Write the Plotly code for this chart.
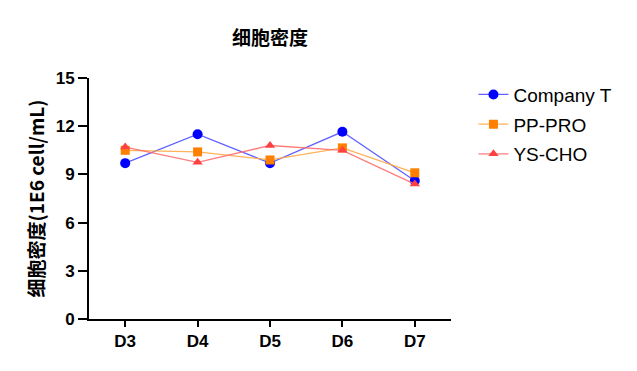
import plotly.graph_objects as go

days = ["D3", "D4", "D5", "D6", "D7"]
company_t = [9.7, 11.5, 9.7, 11.65, 8.6]
pp_pro = [10.5, 10.4, 9.9, 10.65, 9.1]
ys_cho = [10.7, 9.75, 10.8, 10.5, 8.4]
y_ticks = [0, 3, 6, 9, 12, 15]

FONT = "Arial, 'Liberation Sans', 'Noto Sans CJK SC', sans-serif"
CJK = "'Noto Sans CJK SC', Arial, sans-serif"

fig = go.Figure()
series = [
    ("Company T", company_t, "#0000FF", "rgba(80,80,255,0.9)", "circle", 10),
    ("PP-PRO", pp_pro, "#FF8000", "rgba(255,170,70,0.9)", "square", 9),
    ("YS-CHO", ys_cho, "#FF4040", "rgba(255,110,110,0.9)", "triangle-up", 9),
]
for name, vals, mc, lc, sym, sz in series:
    fig.add_trace(go.Scatter(
        x=days, y=vals, name=name, mode="lines+markers", legendgroup=name,
        line=dict(color=lc, width=1.3),
        marker=dict(color=mc, symbol=sym, size=sz),
    ))

fig.update_layout(
    width=637, height=371,
    paper_bgcolor="white", plot_bgcolor="white",
    margin=dict(l=89, r=186, t=78, b=52),
    font=dict(family=FONT, color="black"),
    title=dict(text="<b>细胞密度</b>", x=(89 + 451) / 2 / 637, xanchor="center",
               y=1 - 38 / 371, yanchor="middle",
               font=dict(size=19, family=CJK)),
    showlegend=True,
    legend=dict(x=1.062, y=1.01, xanchor="left", yanchor="top",
                font=dict(size=19, family=FONT), bgcolor="rgba(0,0,0,0)",
                tracegroupgap=2, itemwidth=30),
)
fig.update_xaxes(
    range=[-0.5, 4.5], showline=True, linecolor="black", linewidth=2,
    ticks="outside", ticklen=6, tickwidth=2, tickcolor="black",
    showgrid=False, zeroline=False, automargin=False,
    tickfont=dict(size=17, family=FONT, weight="bold"),
)
fig.update_yaxes(
    range=[0, 15], tickvals=y_ticks, showline=True, linecolor="black", linewidth=2,
    ticks="outside", ticklen=9, tickwidth=2, tickcolor="black",
    showgrid=False, zeroline=False, automargin=False,
    tickfont=dict(size=17, family=FONT, weight="bold"),
    title=dict(text="<b>细胞密度(1E6 cell/mL)</b>", standoff=6,
               font=dict(size=19, family=CJK)),
)

fig.write_html("out.html", config={"displayModeBar": False},
               post_script="document.body.style.margin='0';document.body.style.padding='0';")
